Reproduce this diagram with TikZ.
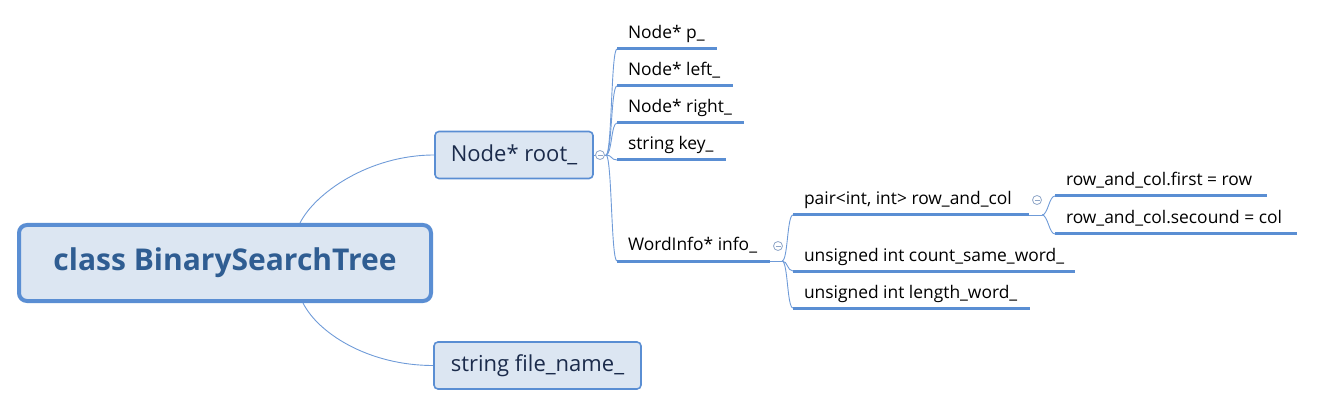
\documentclass[tikz,border=0pt]{standalone}
\usepackage{fontspec}
\setmainfont{Open Sans}
\usetikzlibrary{calc}
\definecolor{bl}{HTML}{5A8ED3}
\definecolor{fillb}{HTML}{DCE6F2}
\definecolor{rt}{HTML}{2F5D92}
\definecolor{bt}{HTML}{1B2B4B}
\definecolor{cn}{HTML}{6F9BD8}
\definecolor{cg}{HTML}{8FA6C8}
\newcommand\lt[2]{\makebox[#1][l]{#2}}
\begin{document}
\begin{tikzpicture}[x=1pt,y=-1pt,
 rootbox/.style={draw=bl, line width=4pt, fill=fillb, rounded corners=8pt, minimum width=412pt, minimum height=76pt, inner sep=0pt, font=\fontsize{30}{35}\selectfont\bfseries, text=rt},
 topicbox/.style={draw=bl, line width=1.6pt, fill=fillb, rounded corners=4pt, minimum height=47pt, inner sep=0pt, font=\fontsize{22}{26}\selectfont, text=bt},
 leaf/.style={anchor=south west, inner xsep=11pt, inner ysep=10pt, text depth=0pt, outer sep=0pt, font=\fontsize{17.4}{20}\selectfont, text=black},
 uline/.style={draw=bl, line width=3pt},
 conn/.style={draw=cn, line width=0.9pt},
 fold/.style={circle, draw=cg, line width=0.8pt, minimum size=9pt, inner sep=0pt, fill=white, path picture={\draw[cg, line width=0.8pt] ([xshift=-2.5pt]path picture bounding box.center) -- ([xshift=2.5pt]path picture bounding box.center);}}
]
\useasboundingbox (0,0) rectangle (1317,406);

% main boxes
\node[rootbox] (root) at (225,263) {class BinarySearchTree};
\node[topicbox, minimum width=158pt] (rt) at (514,155) {Node* root\_};
\node[topicbox, minimum width=207pt] (fn) at (537.5,365.5) {string file\_name\_};

\draw[conn] ([xshift=75pt]root.north) .. controls ($([xshift=75pt]root.north)+(15,-30)$) and ($(rt.west)+(-65,0)$) .. (rt.west);
\draw[conn] ([xshift=78pt]root.south) .. controls ($([xshift=78pt]root.south)+(15,30)$) and ($(fn.west)+(-65,0)$) .. (fn.west);

% leaves of root_
\node[leaf] (p) at (617,49) {\lt{78pt}{Node* p\_}};
\node[leaf] (l) at (617,86) {\lt{94pt}{Node* left\_}};
\node[leaf] (r) at (617,123) {\lt{105pt}{Node* right\_}};
\node[leaf] (k) at (617,160) {\lt{87pt}{string key\_}};
\node[leaf] (w) at (617,261) {\lt{131pt}{WordInfo* info\_}};

\coordinate (o1) at (606,155);
\draw[conn] (rt.east) -- (o1);
\foreach \n in {p,l,r,k,w}{
  \draw[conn] (o1) .. controls ($(o1)+(6,0)$) and ($(\n.south west)+(-6,0)$) .. (\n.south west);
}
\node[fold] (f1) at (600,155) {};

% leaves of info_
\node[leaf] (pr) at (793,215) {\lt{214pt}{pair<int, int> row\_and\_col}};
\node[leaf] (c) at (793,271) {\lt{260pt}{unsigned int count\_same\_word\_}};
\node[leaf] (lw) at (793,308) {\lt{215pt}{unsigned int length\_word\_}};

\coordinate (o2) at (782,261);
\draw[conn] (w.south east) -- (o2);
\foreach \n in {pr,c,lw}{
  \draw[conn] (o2) .. controls ($(o2)+(6,0)$) and ($(\n.south west)+(-6,0)$) .. (\n.south west);
}
\node[fold] (f2) at (778,246) {};

% leaves of pair
\node[leaf] (fi) at (1055,196) {\lt{190pt}{row\_and\_col.first = row}};
\node[leaf] (se) at (1055,234) {\lt{220pt}{row\_and\_col.secound = col}};

\coordinate (o3) at (1042,215);
\draw[conn] (pr.south east) -- (o3);
\foreach \n in {fi,se}{
  \draw[conn] (o3) .. controls ($(o3)+(6,0)$) and ($(\n.south west)+(-6,0)$) .. (\n.south west);
}
\node[fold] (f3) at (1037,200) {};

% underlines
\foreach \n in {p,l,r,k,w,pr,c,lw,fi,se}{
  \draw[uline] (\n.south west) -- (\n.south east);
}
\end{tikzpicture}
\end{document}
